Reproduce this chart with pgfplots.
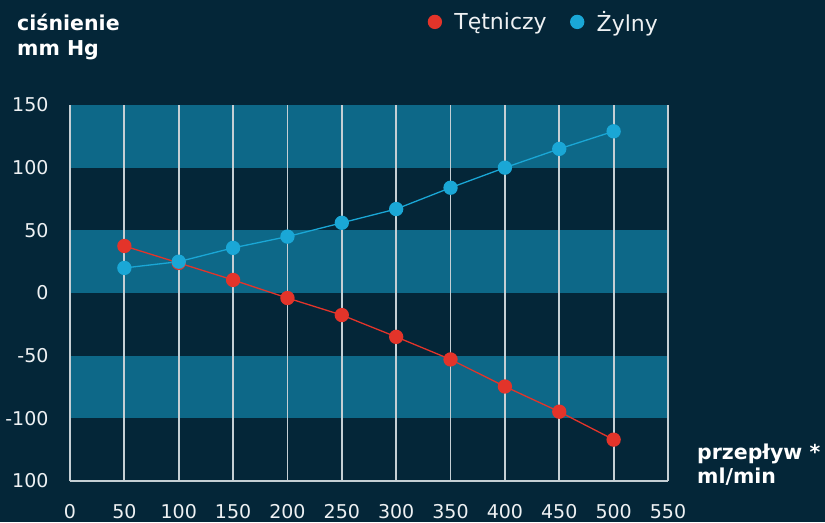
\documentclass[border=0pt]{standalone}
\usepackage{pgfplots}
\pgfplotsset{compat=1.18}
\usepackage{fontspec}
\setmainfont{DejaVu Sans}
\definecolor{bg}{HTML}{042638}
\definecolor{band}{HTML}{0D6888}
\definecolor{tred}{HTML}{E3342A}
\definecolor{tblue}{HTML}{1AA7D6}
\definecolor{gridc}{HTML}{C5CFD4}
\definecolor{txt}{HTML}{EEF1F3}
\begin{document}
\begin{tikzpicture}[x=1pt,y=1pt]
\path (0,0) rectangle (825,522);
\begin{axis}[
  at={(70pt,41pt)}, anchor=south west,
  scale only axis, width=598pt, height=376pt,
  set layers=standard,
  xmin=0, xmax=550, ymin=-150, ymax=150,
  xtick={0,50,...,550},
  ytick={-150,-100,-50,0,50,100,150},
  yticklabels={100,-100,-50,0,50,100,150},
  axis x line*=bottom, axis y line*=left,
  axis line style={-, line width=1.8pt, color=gridc},
  major tick length=0pt,
  xmajorgrids,
  major grid style={line width=1.8pt, color=gridc},
  /pgf/number format/assume math mode=true,
  ticklabel style={font=\fontsize{19}{22}\selectfont, text=txt},
  xticklabel style={anchor=north, yshift=-20pt},
  yticklabel style={anchor=east, xshift=-18pt},
  xlabel={przepływ *\\ml/min},
  xlabel style={at={(axis description cs:1.0485,0.099)}, anchor=north west, align=left, font=\bfseries\fontsize{20.5}{24}\selectfont, text=white, inner sep=0pt},
  ylabel={ciśnienie\\mm Hg},
  ylabel style={rotate=-90, at={(axis description cs:-0.0886,1.242)}, anchor=north west, align=left, font=\bfseries\fontsize{20.5}{25}\selectfont, text=white, inner sep=0pt},
  legend style={at={(0.599,1.221)}, anchor=west, draw=none, fill=none, text=txt,
    font=\fontsize{22}{26}\selectfont, legend columns=2, inner sep=0pt,
    /tikz/every odd column/.append style={column sep=11pt},
    /tikz/every even column/.append style={column sep=22pt}},
  legend image code/.code={\draw[#1] plot coordinates {(7pt,0pt)};},
]
\begin{pgfonlayer}{axis background}
\fill[bg] ([shift={(-70pt,-41pt)}]rel axis cs:0,0) rectangle ([shift={(755pt,481pt)}]rel axis cs:0,0);
\fill[band] (axis cs:0,100) rectangle (axis cs:550,150);
\fill[band] (axis cs:0,0) rectangle (axis cs:550,50);
\fill[band] (axis cs:0,-100) rectangle (axis cs:550,-50);
\end{pgfonlayer}
\addplot[color=tred, line width=1.3pt, mark=*, mark size=6.5pt, mark options={fill=tred, draw=tred}]
coordinates {(50,37.5) (100,24) (150,10.4) (200,-4) (250,-17.6) (300,-35) (350,-53) (400,-74.6) (450,-94.7) (500,-117)};
\addlegendentry{Tętniczy}
\addplot[color=tblue, line width=1.3pt, mark=*, mark size=6.5pt, mark options={fill=tblue, draw=tblue}]
coordinates {(50,20) (100,25) (150,36) (200,45) (250,56) (300,67) (350,84) (400,100) (450,115) (500,129)};
\addlegendentry{Żylny}
\end{axis}
\end{tikzpicture}
\end{document}
